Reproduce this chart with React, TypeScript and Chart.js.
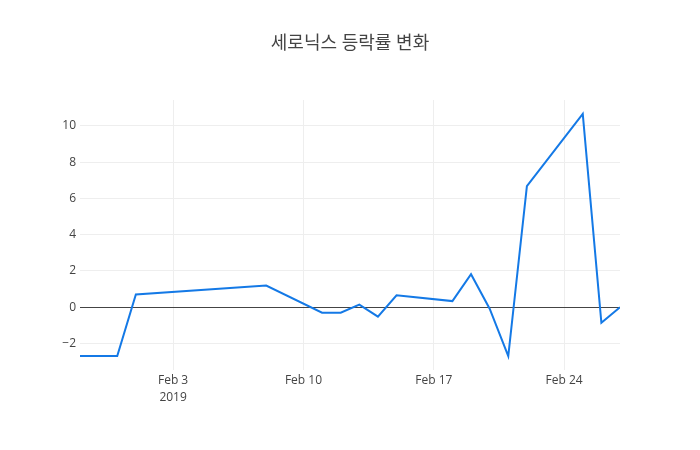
import React, { useEffect, useRef } from 'react'
import { Chart, registerables } from 'chart.js'

Chart.register(...registerables)

const dates = [
  '2019-01-29', '2019-01-31', '2019-02-01', '2019-02-08', '2019-02-11',
  '2019-02-12', '2019-02-13', '2019-02-14', '2019-02-15', '2019-02-18',
  '2019-02-19', '2019-02-20', '2019-02-21', '2019-02-22', '2019-02-25',
  '2019-02-26', '2019-02-27',
]
const changes = [
  -2.69, -2.69, 0.7, 1.2, -0.3,
  -0.3, 0.15, -0.52, 0.66, 0.34,
  1.82, -0.08, -2.7, 6.68, 10.66,
  -0.86, 0.0,
]
const tickDates = ['2019-02-03', '2019-02-10', '2019-02-17', '2019-02-24']
const yTicks = [-2, 0, 2, 4, 6, 8, 10]
const titleText = '세로닉스 등락률 변화'

const DAY = 86400000
const toDay = (d: string) => Date.parse(d + 'T00:00:00Z') / DAY
const MONTHS = ['Jan', 'Feb', 'Mar', 'Apr', 'May', 'Jun', 'Jul', 'Aug', 'Sep', 'Oct', 'Nov', 'Dec']

const fontFamily = '"Open Sans", "Noto Sans CJK KR", sans-serif'

// title centred on the whole canvas, like plotly does
const pageTitle = {
  id: 'pageTitle',
  afterDraw(chart: any) {
    const ctx = chart.ctx
    ctx.save()
    ctx.fillStyle = '#444'
    ctx.font = '18px ' + fontFamily
    ctx.textAlign = 'center'
    ctx.textBaseline = 'middle'
    ctx.fillText(titleText, chart.width / 2, 44)
    ctx.restore()
  },
}

const App = () => {
  const canvasRef = useRef<HTMLCanvasElement>(null)

  useEffect(() => {
    const xs = dates.map(toDay)
    const chart = new Chart(canvasRef.current!, {
      type: 'line',
      data: {
        datasets: [{
          data: xs.map((x, i) => ({ x, y: changes[i] })),
          borderColor: '#1479e6',
          borderWidth: 2,
          pointRadius: 0,
          tension: 0,
          fill: false,
        }],
      },
      options: {
        animation: false,
        responsive: false,
        maintainAspectRatio: false,
        layout: { padding: { left: 0, right: 80, top: 100, bottom: 0 } },
        plugins: {
          legend: { display: false },
          tooltip: { enabled: false },
          title: { display: false },
        },
        scales: {
          x: {
            type: 'linear',
            min: xs[0],
            max: xs[xs.length - 1],
            afterBuildTicks: (scale: any) => {
              scale.ticks = tickDates.map(d => ({ value: toDay(d) }))
            },
            afterFit: (scale: any) => { scale.height = 80 },
            ticks: {
              color: '#444',
              font: { family: fontFamily, size: 12, lineHeight: 1.4 },
              padding: 2,
              maxRotation: 0,
              autoSkip: false,
              callback: (v: any, i: number) => {
                const d = new Date(Number(v) * DAY)
                const label = MONTHS[d.getUTCMonth()] + ' ' + d.getUTCDate()
                return i === 0 ? [label, String(d.getUTCFullYear())] : label
              },
            },
            grid: { color: '#eee', drawTicks: false },
            border: { display: false },
          },
          y: {
            min: -3.46,
            max: 11.43,
            afterBuildTicks: (scale: any) => {
              scale.ticks = yTicks.map(v => ({ value: v }))
            },
            afterFit: (scale: any) => { scale.width = 80 },
            ticks: {
              color: '#444',
              font: { family: fontFamily, size: 12 },
              padding: 4,
              callback: (v: any) => (Number(v) < 0 ? '\u2212' + Math.abs(Number(v)) : String(v)),
            },
            grid: {
              color: (ctx: any) => (ctx.tick && ctx.tick.value === 0 ? '#444' : '#eee'),
              drawTicks: false,
            },
            border: { display: false },
          },
        },
      },
      plugins: [pageTitle],
    })
    return () => {
      chart.destroy()
    }
  }, [])

  return (
    <div style={{ width: 700, height: 450, margin: -8, background: '#fff' }}>
      <canvas ref={canvasRef} width={700} height={450} style={{ display: 'block' }}></canvas>
    </div>
  )
}

export default App
